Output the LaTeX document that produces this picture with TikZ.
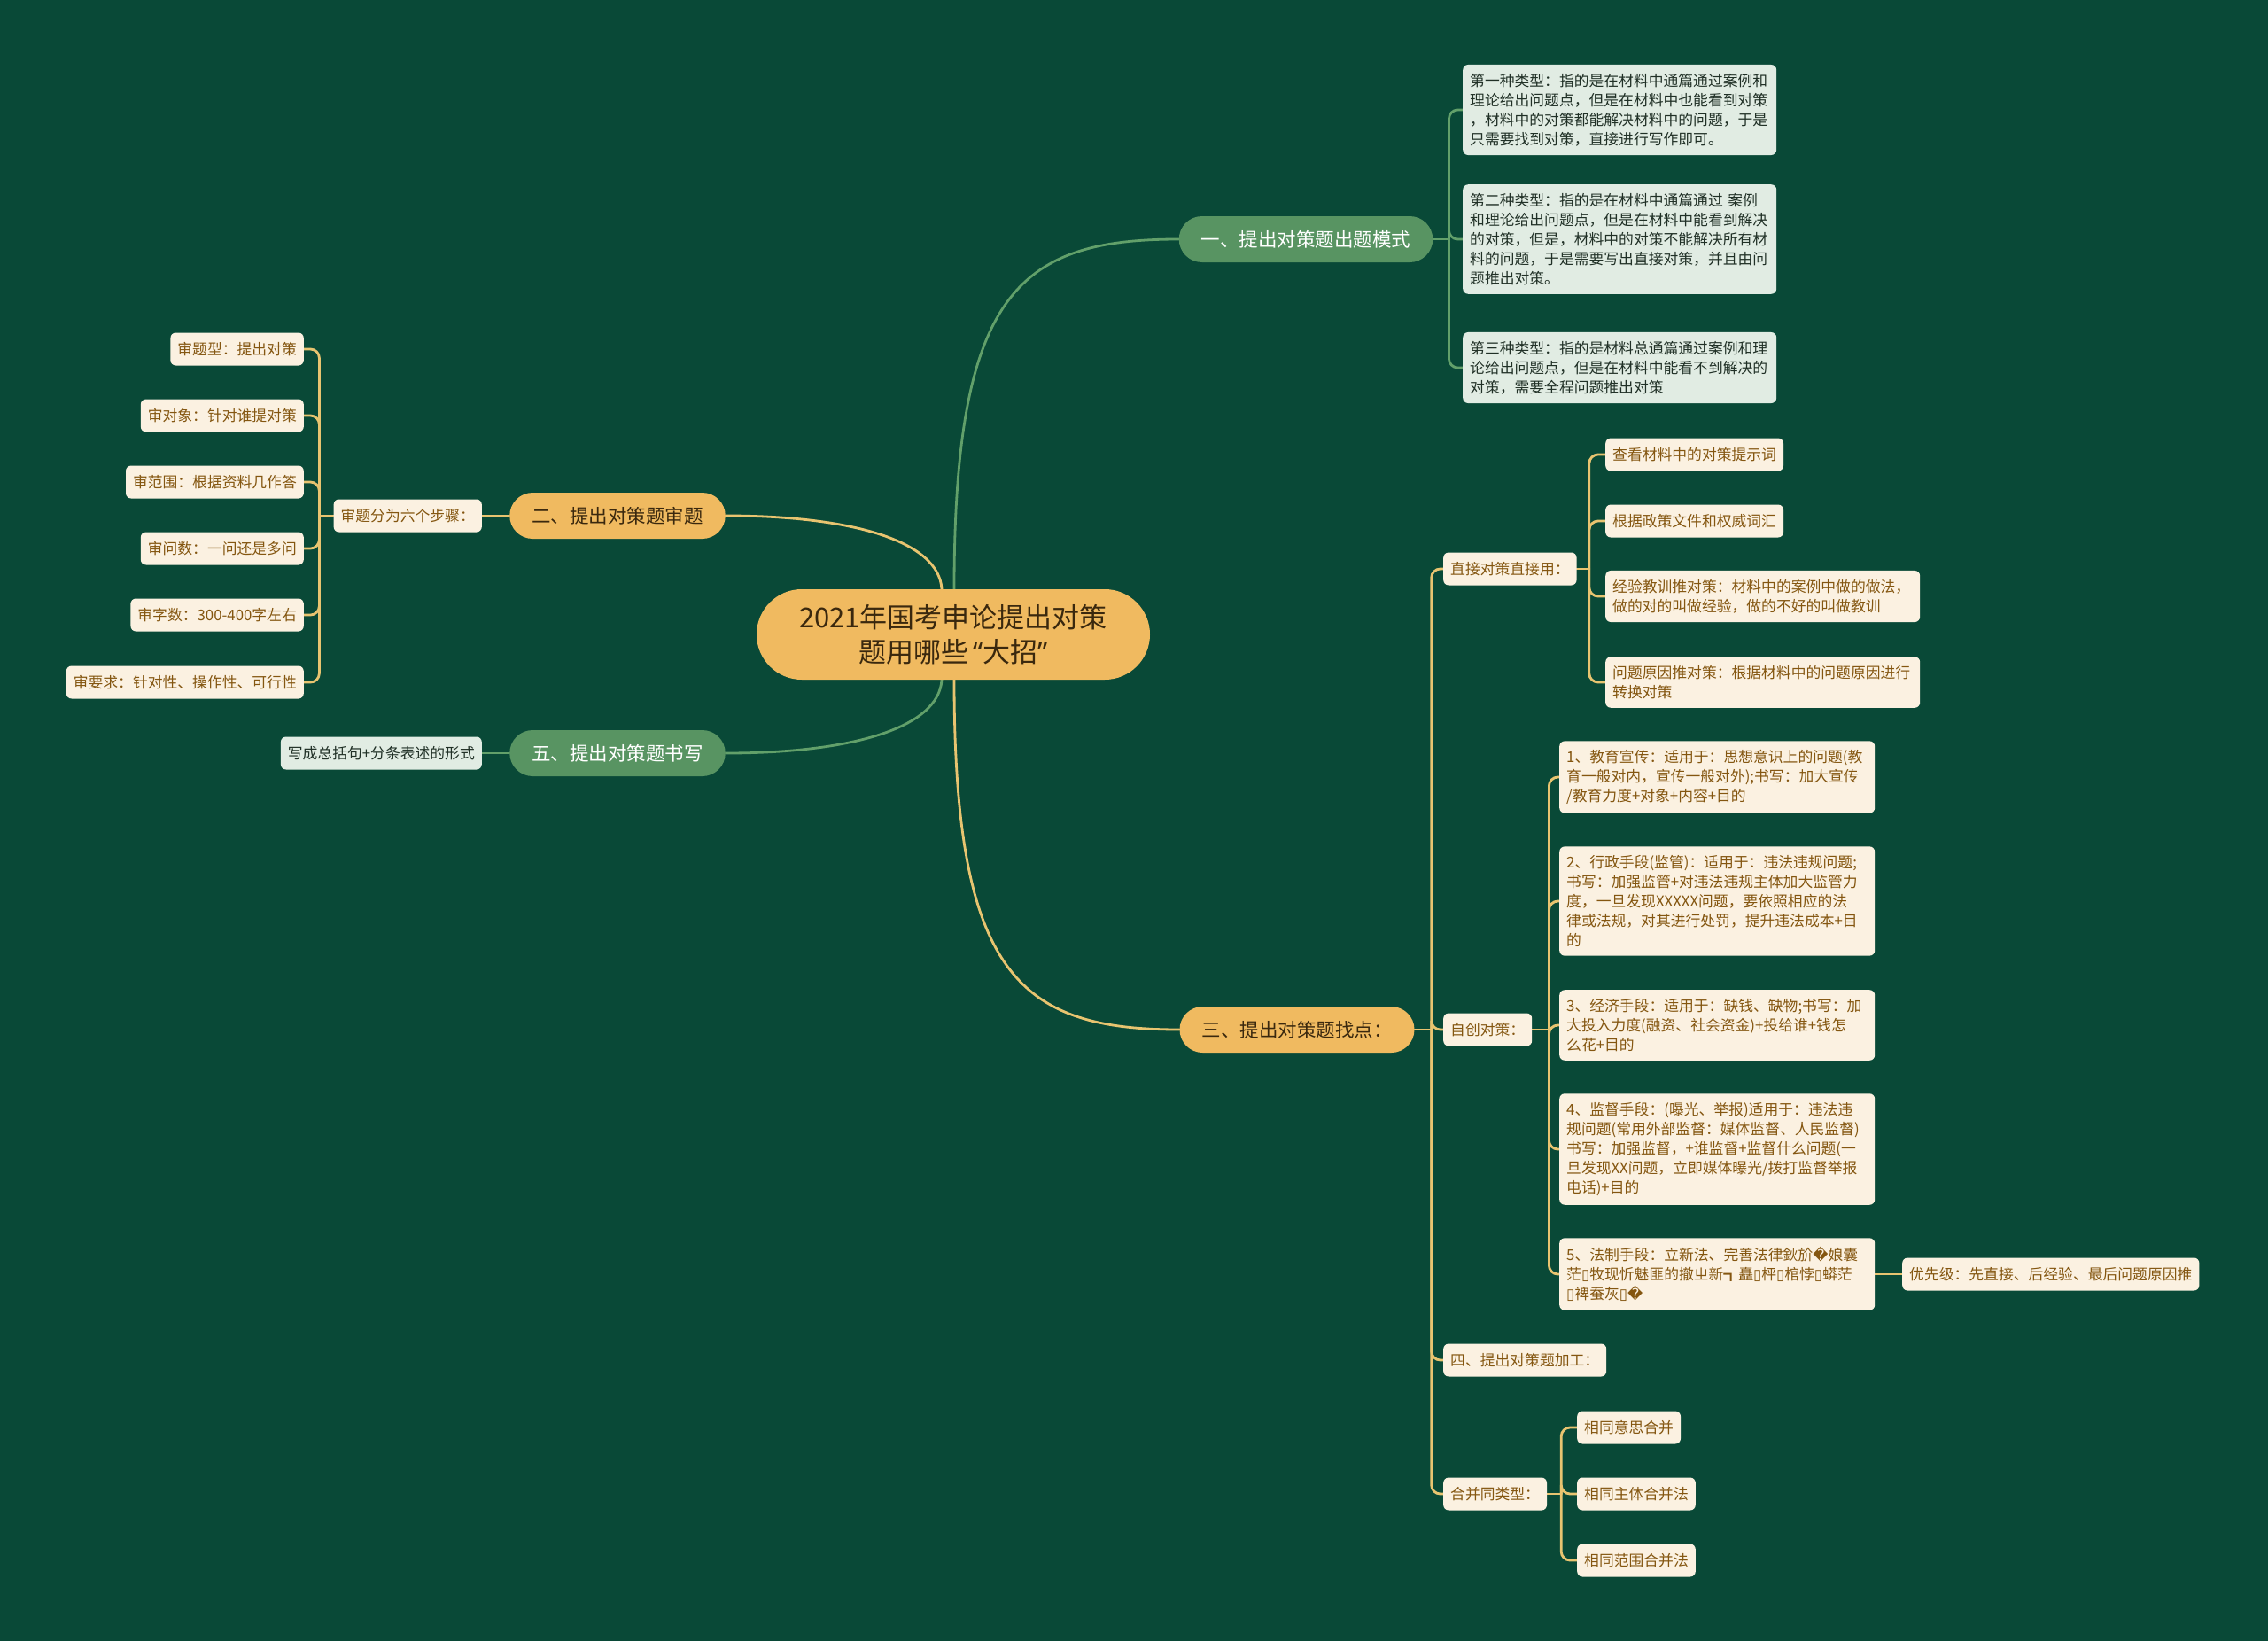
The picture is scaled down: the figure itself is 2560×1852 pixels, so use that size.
\documentclass[tikz,border=0pt]{standalone}
\usepackage{fontspec}
\usetikzlibrary{backgrounds}
\newfontfamily\cjk{Noto Sans CJK SC}
\newfontfamily\latinsans{Noto Sans}
\newfontfamily\djv{DejaVu Sans}
\newcommand\tofu{{\djv ▯}}
\newcommand\repl{{\djv �}}
\definecolor{bgc}{RGB}{9,73,55}
\definecolor{orangec}{RGB}{240,186,96}
\definecolor{orangetext}{RGB}{58,40,14}
\definecolor{greennode}{RGB}{88,148,98}
\definecolor{greenline}{RGB}{98,160,106}
\definecolor{yellowline}{RGB}{232,196,112}
\definecolor{creamc}{RGB}{251,241,225}
\definecolor{creamtext}{RGB}{132,86,16}
\definecolor{lgreen}{RGB}{225,236,227}
\definecolor{lgtext}{RGB}{32,48,38}
\tikzset{
  base/.style={font=\cjk\fontsize{16.8}{22}\selectfont, rounded corners=6pt,
    inner xsep=8pt, inner ysep=10pt, minimum height=37pt, align=left},
  gbox/.style={base, fill=lgreen, text=lgtext},
  cbox/.style={base, fill=creamc, text=creamtext},
  mainnode/.style={font=\cjk\fontsize{21.5}{26}\selectfont, rounded corners=26pt,
    minimum height=52pt, inner xsep=25pt, inner ysep=0pt},
  mainO/.style={mainnode, fill=orangec, text=orangetext},
  mainG/.style={mainnode, fill=greennode, text=white},
  central/.style={font=\cjk\fontsize{31}{39}\selectfont, fill=orangec, text=orangetext,
    rounded corners=51pt, minimum width=444pt, minimum height=102pt, align=center},
  ylink/.style={draw=yellowline, line width=2.8pt, rounded corners=10pt, line cap=round},
  glink/.style={draw=greenline, line width=2.8pt, rounded corners=10pt, line cap=round},
}
\begin{document}
\begin{tikzpicture}[x=1pt,y=-1pt]
\useasboundingbox (0,0) rectangle (2560,1852);

% central
\node[central] (c) at (1076,716) {2021年国考申论提出对策\\题用哪些{\latinsans\,“}大招{\latinsans ”}};
\coordinate (ctl) at (1063,665);
\coordinate (ctr) at (1077,665);
\coordinate (cbl) at (1063,767);
\coordinate (cbr) at (1077,767);

% main branches
\node[mainG] (n1) at (1474,270) {一、提出对策题出题模式};
\node[mainO] (n2) at (697,582) {二、提出对策题审题};
\node[mainO] (n3) at (1464,1162) {三、提出对策题找点：};
\node[mainG] (n5) at (697,850) {五、提出对策题书写};

% branch one children
\node[gbox, text width=338pt, anchor=west] (t1) at (1651,124) {第一种类型：指的是在材料中通篇通过案例和\\理论给出问题点，但是在材料中也能看到对策\\，材料中的对策都能解决材料中的问题，于是\\只需要找到对策，直接进行写作即可。};
\node[gbox, text width=338pt, anchor=west] (t2) at (1651,270) {第二种类型：指的是在材料中通篇通过 案例\\和理论给出问题点，但是在材料中能看到解决\\的对策，但是，材料中的对策不能解决所有材\\料的问题，于是需要写出直接对策，并且由问\\题推出对策。};
\node[gbox, text width=338pt, anchor=west] (t3) at (1651,415) {第三种类型：指的是材料总通篇通过案例和理\\论给出问题点，但是在材料中能看不到解决的\\对策，需要全程问题推出对策};

% branch two
\node[cbox, anchor=east] (s0) at (544,582) {审题分为六个步骤：};
\node[cbox, anchor=east] (s1) at (343,394) {审题型：提出对策};
\node[cbox, anchor=east] (s2) at (343,469) {审对象：针对谁提对策};
\node[cbox, anchor=east] (s3) at (343,544) {审范围：根据资料几作答};
\node[cbox, anchor=east] (s4) at (343,619) {审问数：一问还是多问};
\node[cbox, anchor=east] (s5) at (343,694) {审字数：300-400字左右};
\node[cbox, anchor=east] (s6) at (343,770) {审要求：针对性、操作性、可行性};

% branch five
\node[gbox, anchor=east] (w1) at (544,850) {写成总括句+分条表述的形式};

% branch three
\node[cbox, anchor=west] (d0) at (1629,642) {直接对策直接用：};
\node[cbox, anchor=west] (z0) at (1629,1162) {自创对策：};
\node[cbox, anchor=west] (p4) at (1629,1535) {四、提出对策题加工：};
\node[cbox, anchor=west] (h0) at (1629,1686) {合并同类型：};

\node[cbox, anchor=west] (d1) at (1812,513) {查看材料中的对策提示词};
\node[cbox, anchor=west] (d2) at (1812,588) {根据政策文件和权威词汇};
\node[cbox, anchor=west, text width=339pt] (d3) at (1812,673) {经验教训推对策：材料中的案例中做的做法，\\做的对的叫做经验，做的不好的叫做教训};
\node[cbox, anchor=west, text width=339pt] (d4) at (1812,770) {问题原因推对策：根据材料中的问题原因进行\\转换对策};

\node[cbox, anchor=west, text width=340pt] (z1) at (1760,877) {1、教育宣传：适用于：思想意识上的问题(教\\育一般对内，宣传一般对外);书写：加大宣传\\/教育力度+对象+内容+目的};
\node[cbox, anchor=west, text width=340pt] (z2) at (1760,1017) {2、行政手段(监管)：适用于：违法违规问题;\\书写：加强监管+对违法违规主体加大监管力\\度，一旦发现XXXXX问题，要依照相应的法\\律或法规，对其进行处罚，提升违法成本+目\\的};
\node[cbox, anchor=west, text width=340pt] (z3) at (1760,1157) {3、经济手段：适用于：缺钱、缺物;书写：加\\大投入力度(融资、社会资金)+投给谁+钱怎\\么花+目的};
\node[cbox, anchor=west, text width=340pt] (z4) at (1760,1297) {4、监督手段：(曝光、举报)适用于：违法违\\规问题(常用外部监督：媒体监督、人民监督)\\书写：加强监督，+谁监督+监督什么问题(一\\旦发现XX问题，立即媒体曝光/拨打监督举报\\电话)+目的};
\node[cbox, anchor=west, text width=340pt] (z5) at (1760,1438) {5、法制手段：立新法、完善法律鈥斺\repl 娘囊\\茫\tofu 牧现忻魅匪的撤ㄓ新┓矗\tofu 枰\tofu 棺悖\tofu 蟒茫\\\tofu 裨蚕灰\tofu\repl};
\node[cbox, anchor=west] (pr) at (2147,1438) {优先级：先直接、后经验、最后问题原因推};

\node[cbox, anchor=west] (h1) at (1780,1611) {相同意思合并};
\node[cbox, anchor=west] (h2) at (1780,1686) {相同主体合并法};
\node[cbox, anchor=west] (h3) at (1780,1761) {相同范围合并法};

\begin{scope}[on background layer]
\fill[bgc] (0,0) rectangle (2560,1852);
% central curves
\draw[glink] (ctr) .. controls (1077,330) and (1150,270) .. (n1.west);
\draw[ylink] (n2.east) .. controls (960,582) and (1060,610) .. (ctl);
\draw[glink] (n5.east) .. controls (960,850) and (1060,822) .. (cbl);
\draw[ylink] (cbr) .. controls (1077,1100) and (1150,1162) .. (n3.west);
% branch one
\draw[glink] (n1.east) -- ++(18,0) coordinate (n1t);
\foreach \t in {t1,t2,t3} \draw[glink] (n1t) |- (\t.west);
% branch two
\draw[ylink] (n2.west) -- (s0.east);
\draw[ylink] (s0.west) -- ++(-16,0) coordinate (s0t);
\foreach \t in {s1,s2,s3,s4,s5,s6} \draw[ylink] (s0t) |- (\t.east);
% branch five
\draw[glink] (n5.west) -- (w1.east);
% branch three
\draw[ylink] (n3.east) -- ++(19,0) coordinate (n3t);
\foreach \t in {d0,z0,p4,h0} \draw[ylink] (n3t) |- (\t.west);
\draw[ylink] (d0.east) -- ++(14,0) coordinate (d0t);
\foreach \t in {d1,d2,d3,d4} \draw[ylink] (d0t) |- (\t.west);
\draw[ylink] (z0.east) -- ++(19,0) coordinate (z0t);
\foreach \t in {z1,z2,z3,z4,z5} \draw[ylink] (z0t) |- (\t.west);
\draw[ylink] (z5.east) -- (pr.west);
\draw[ylink] (h0.east) -- ++(16,0) coordinate (h0t);
\foreach \t in {h1,h2,h3} \draw[ylink] (h0t) |- (\t.west);
\end{scope}
\end{tikzpicture}
\end{document}
